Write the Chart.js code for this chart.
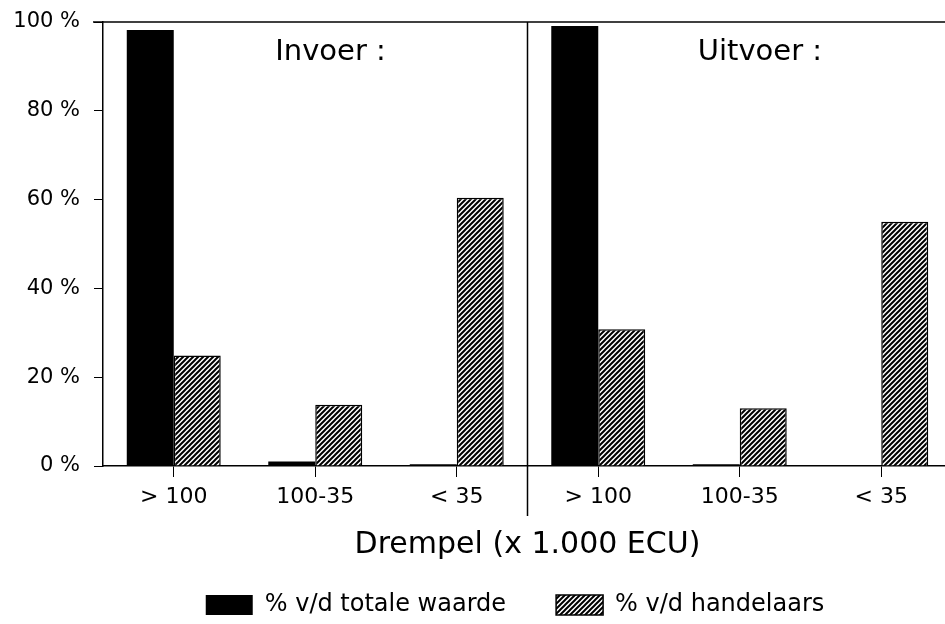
<!DOCTYPE html>
<html><head><meta charset="utf-8">
<script src="https://cdn.jsdelivr.net/npm/chart.js@4"></script>
<style>html,body{margin:0;padding:0;background:#fff}#wrap{width:945px;height:624px}canvas{display:block}</style>
</head><body><div id="wrap"><canvas id="c" width="945" height="624"></canvas></div>
<script>
// ---- data ----
const categories = ['> 100', '100-35', '< 35', '> 100', '100-35', '< 35'];
const panelTitles = ['Invoer :', 'Uitvoer :'];
const totaleWaarde = [98.2, 1.0, 0.4, 99.1, 0.4, 0.2];
const handelaars = [24.9, 13.8, 60.4, 30.8, 13.0, 55.0];
const yTicks = [0, 20, 40, 60, 80, 100];
const seriesNames = ['% v/d totale waarde', '% v/d handelaars'];
const axisTitle = 'Drempel (x 1.000 ECU)';

Chart.defaults.font.family = "'DejaVu Sans', sans-serif";
Chart.defaults.color = '#000';

const canvas = document.getElementById('c');
const ctx = canvas.getContext('2d');

function makeHatch() {
  const s = 5;
  const c = document.createElement('canvas');
  c.width = s; c.height = s;
  const g = c.getContext('2d');
  g.fillStyle = '#fff'; g.fillRect(0, 0, s, s);
  g.strokeStyle = '#000'; g.lineWidth = 2;
  g.beginPath();
  g.moveTo(0, s); g.lineTo(s, 0);
  g.moveTo(-s, s); g.lineTo(s, -s);
  g.moveTo(0, 2 * s); g.lineTo(2 * s, 0);
  g.stroke();
  return ctx.createPattern(c, 'repeat');
}
const hatch = makeHatch();

const LEFT_PAD = 85;     // shifts the centred legend
const AXIS_LEFT = 103;   // x of the value axis
const PLOT_TOP = 22;     // y of the top frame line
const RIGHT_OVERHANG = 7;

const frame = {
  id: 'frame',
  afterLayout(chart) {
    const { x, y } = chart.scales;
    const a = chart.chartArea;
    y.left = 0;
    y.top = PLOT_TOP;
    y.height = y.bottom - y.top;
    y.configure();
    a.top = PLOT_TOP;
    a.height = a.bottom - a.top;
    x.right = chart.width + RIGHT_OVERHANG;
    x.width = x.right - x.left;
    x.configure();
    a.right = x.right;
    a.width = x.right - a.left;
  },
  afterDraw(chart) {
    const { ctx, chartArea: a, scales: { x } } = chart;
    ctx.save();
    ctx.strokeStyle = '#000';
    ctx.lineWidth = 1.5;
    ctx.beginPath();
    ctx.moveTo(a.left - 10, a.top);
    ctx.lineTo(chart.width, a.top);
    ctx.stroke();
    const xd = x.getPixelForValue(2.5);
    ctx.beginPath();
    ctx.moveTo(xd, a.top);
    ctx.lineTo(xd, a.bottom + 50);
    ctx.stroke();
    ctx.fillStyle = '#000';
    ctx.font = "29px 'DejaVu Sans'";
    ctx.textBaseline = 'middle';
    ctx.textAlign = 'left';
    ctx.fillText(panelTitles[0], x.getPixelForValue(1) - 40, a.top + 30);
    ctx.fillText(panelTitles[1], x.getPixelForValue(4) - 42, a.top + 30);
    ctx.restore();
  }
};

new Chart(ctx, {
  type: 'bar',
  data: {
    labels: categories,
    datasets: [
      { label: seriesNames[0], data: totaleWaarde, backgroundColor: '#000', borderColor: '#000', borderWidth: 0, minBarLength: 1, barPercentage: 1, categoryPercentage: 0.664 },
      { label: seriesNames[1], data: handelaars, backgroundColor: hatch, borderColor: '#000', borderWidth: 1.5, barPercentage: 1, categoryPercentage: 0.664 }
    ]
  },
  options: {
    responsive: false,
    animation: false,
    layout: { padding: { top: 18, left: LEFT_PAD, right: 0, bottom: -3 } },
    plugins: {
      legend: {
        position: 'bottom', align: 'center',
        labels: { boxWidth: 47, boxHeight: 20, padding: 50, font: { size: 24 }, color: '#000' }
      },
      tooltip: { enabled: false }
    },
    scales: {
      x: {
        grid: { display: true, drawOnChartArea: false, offset: false, tickLength: 11, color: '#000', lineWidth: 1 },
        border: { color: '#000', width: 1.5 },
        ticks: { font: { size: 22 }, color: '#000', padding: 7, maxRotation: 0, autoSkip: false },
        title: { display: true, text: axisTitle, font: { size: 30 }, color: '#000', padding: { top: 0, bottom: -20 } },
        afterFit(s) { s.height = 77; }
      },
      y: {
        min: 0, max: 100,
        afterBuildTicks(s) { s.ticks = yTicks.map(v => ({ value: v })); },
        ticks: { callback: v => v + ' %', font: { size: 21 }, color: '#000', padding: 14 },
        grid: { drawOnChartArea: false, tickLength: 9, color: '#000', lineWidth: 1 },
        border: { color: '#000', width: 1.5 },
        afterFit(s) { s.width = AXIS_LEFT - LEFT_PAD; }
      }
    }
  },
  plugins: [frame]
});
</script>
</body></html>
